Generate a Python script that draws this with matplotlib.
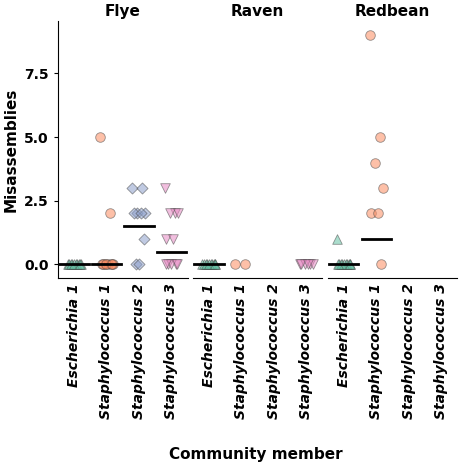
import matplotlib
matplotlib.use("Agg")
import matplotlib.pyplot as plt
import numpy as np

assemblers = ["Flye", "Raven", "Redbean"]
members = ["Escherichia 1", "Staphylococcus 1", "Staphylococcus 2", "Staphylococcus 3"]
colors = ["#66c2a5", "#fc8d62", "#8da0cb", "#e78ac3"]
markers = ["^", "o", "D", "v"]

data = {
    "Flye": [[0]*10, [5, 2] + [0]*8, [3, 3, 2, 2, 2, 2, 1, 0, 0], [3, 2, 2, 2, 1, 1, 0, 0, 0, 0, 0]],
    "Raven": [[0]*10, [0, 0], [], [0]*6],
    "Redbean": [[1] + [0]*10, [9, 5, 4, 3, 2, 2, 0], [], []],
}
medians = {
    "Flye": [0, 0, 1.5, 0.5],
    "Raven": [0, None, None, None],
    "Redbean": [0, 1, None, None],
}
jit = [-0.2, 0.1, -0.05, 0.2, -0.15, 0.05, 0.15, -0.1, 0.0, 0.18, -0.18]

fig, axes = plt.subplots(1, 3, figsize=(4.74, 4.68), dpi=100, sharey=True)
fig.subplots_adjust(left=0.122, right=0.965, top=0.955, bottom=0.405, wspace=0.04)
for ax, a in zip(axes, assemblers):
    for i, vals in enumerate(data[a]):
        vals = np.array(vals, float)
        xs = [i + jit[k % len(jit)] for k in range(len(vals))]
        ax.scatter(xs, vals, marker=markers[i], s=48 if markers[i] != "D" else 32,
                   color=colors[i], alpha=0.55, edgecolor="#444444", linewidth=0.6, zorder=2)
        m = medians[a][i]
        if m is not None:
            ax.plot([i - 0.45, i + 0.45], [m, m], color="black", lw=2, zorder=3)
    ax.set_title(a, fontsize=11, fontweight="bold", pad=4)
    ax.set_xlim(-0.5, 3.5)
    ax.set_ylim(-0.55, 9.55)
    ax.set_xticks(range(4))
    ax.set_xticklabels(members, rotation=90, fontsize=10, fontstyle="italic", fontweight="bold")
    for s in ["top", "right"]:
        ax.spines[s].set_visible(False)
    ax.tick_params(length=0)
    if ax is not axes[0]:
        ax.spines["left"].set_visible(False)
        ax.tick_params(axis="y", left=False)
axes[0].set_yticks([0, 2.5, 5, 7.5])
axes[0].set_yticklabels(["0.0", "2.5", "5.0", "7.5"], fontsize=10, fontweight="bold")
axes[0].tick_params(axis="y", length=3)
axes[0].set_ylabel("Misassemblies", fontsize=11, fontweight="bold")
fig.text(0.54, 0.02, "Community member", ha="center", fontsize=11, fontweight="bold")
fig.savefig("out.png", dpi=100)
